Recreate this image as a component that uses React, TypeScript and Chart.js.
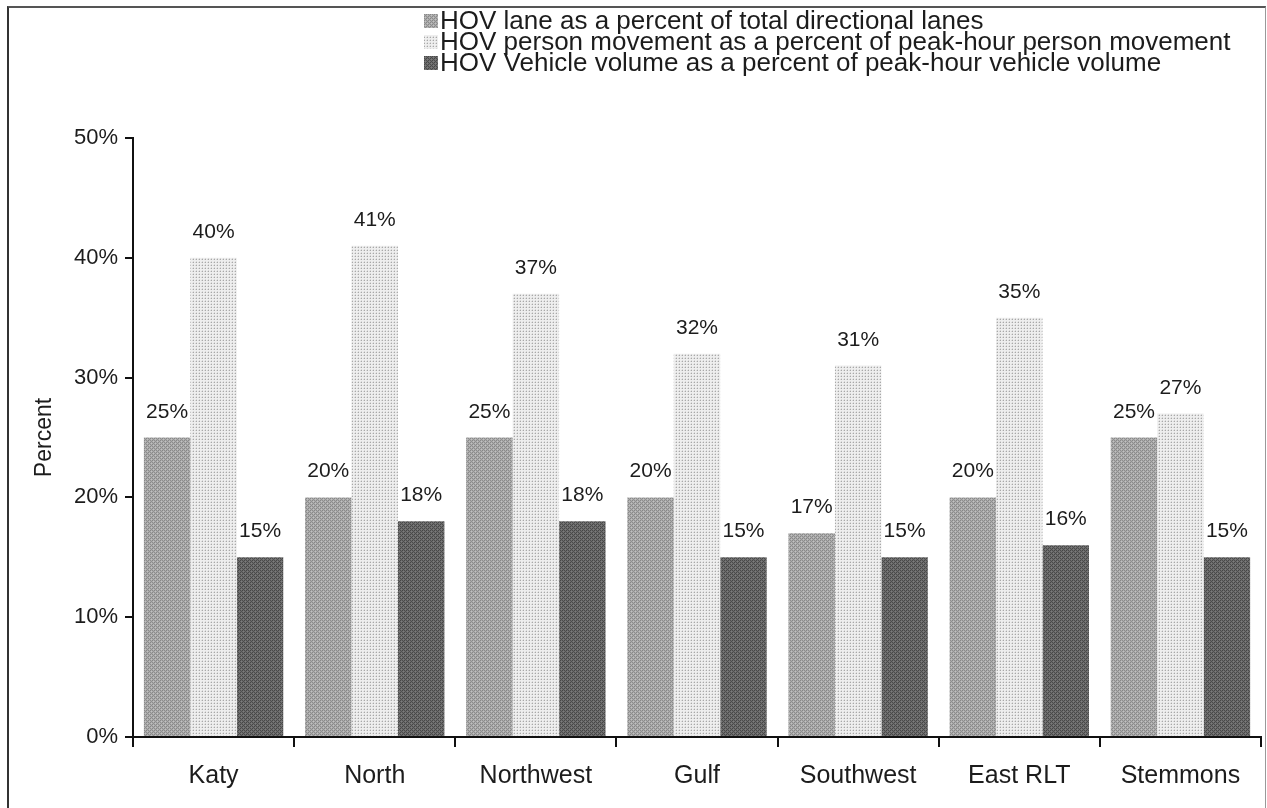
import React, { useEffect, useRef } from "react";
import { Chart, registerables } from "chart.js";

Chart.register(...registerables);

const categories = ["Katy", "North", "Northwest", "Gulf", "Southwest", "East RLT", "Stemmons"];
const laneShare = [25, 20, 25, 20, 17, 20, 25];
const personShare = [40, 41, 37, 32, 31, 35, 27];
const vehicleShare = [15, 18, 18, 15, 15, 16, 15];
const seriesNames = [
  "HOV lane as a percent of total directional lanes",
  "HOV person movement as a percent of peak-hour person movement",
  "HOV Vehicle volume as a percent of peak-hour vehicle volume",
];
const yTicks = [0, 10, 20, 30, 40, 50];

const FONT = "'Liberation Sans', Arial, Helvetica, sans-serif";
const INK = "#1c1c1c";

function makePattern(size: number, bg: string, dots: Array<[number, number, string]>): CanvasPattern | string {
  const c = document.createElement("canvas");
  c.width = size;
  c.height = size;
  const g = c.getContext("2d");
  if (!g) return bg;
  g.fillStyle = bg;
  g.fillRect(0, 0, size, size);
  for (const [x, y, col] of dots) {
    g.fillStyle = col;
    g.fillRect(x, y, 1, 1);
  }
  const ctx = document.createElement("canvas").getContext("2d");
  return (ctx && ctx.createPattern(c, "repeat")) || bg;
}

export default function App() {
  const ref = useRef<HTMLCanvasElement | null>(null);

  useEffect(() => {
    if (!ref.current) return;
    const p1 = makePattern(4, "#acacac", [
      [0, 0, "#888"], [2, 0, "#8e8e8e"], [1, 1, "#c2c2c2"], [3, 1, "#909090"],
      [0, 2, "#8c8c8c"], [2, 2, "#868686"], [1, 3, "#929292"], [3, 3, "#c0c0c0"],
    ]);
    const p2 = makePattern(3, "#eeeeee", [[1, 1, "#a8a8a8"], [0, 1, "#d8d8d8"], [1, 0, "#d8d8d8"]]);
    const p3 = makePattern(4, "#6c6c6c", [
      [0, 0, "#474747"], [2, 0, "#4d4d4d"], [1, 1, "#7c7c7c"], [3, 1, "#4b4b4b"],
      [0, 2, "#4a4a4a"], [2, 2, "#454545"], [1, 3, "#505050"], [3, 3, "#7a7a7a"],
    ]);
    const fills = [p1, p2, p3];

    const valueLabels = {
      id: "valueLabels",
      afterDatasetsDraw(chart: any) {
        const ctx = chart.ctx;
        ctx.save();
        ctx.font = `21px ${FONT}`;
        ctx.fillStyle = INK;
        ctx.textAlign = "center";
        ctx.textBaseline = "alphabetic";
        chart.data.datasets.forEach((ds: any, di: number) => {
          const meta = chart.getDatasetMeta(di);
          meta.data.forEach((bar: any, i: number) => {
            ctx.fillText(`${ds.data[i]}%`, bar.x, bar.y - 20);
          });
        });
        ctx.restore();
      },
    };

    const customLegend = {
      id: "customLegend",
      afterDraw(chart: any) {
        const ctx = chart.ctx;
        ctx.save();
        ctx.font = `26px ${FONT}`;
        ctx.textBaseline = "alphabetic";
        ctx.textAlign = "left";
        chart.data.datasets.forEach((ds: any, di: number) => {
          const base = 29 + di * 21;
          ctx.fillStyle = ds.backgroundColor;
          ctx.fillRect(424, base - 15, 14, 14);
          ctx.fillStyle = INK;
          ctx.fillText(ds.label, 440, base);
        });
        ctx.restore();
      },
    };

    const chart = new Chart(ref.current, {
      type: "bar",
      data: {
        labels: categories,
        datasets: [
          { label: seriesNames[0], data: laneShare, backgroundColor: fills[0] as any, borderWidth: 0 },
          { label: seriesNames[1], data: personShare, backgroundColor: fills[1] as any, borderWidth: 0 },
          { label: seriesNames[2], data: vehicleShare, backgroundColor: fills[2] as any, borderWidth: 0 },
        ],
      },
      options: {
        animation: false,
        responsive: false,
        maintainAspectRatio: false,
        layout: { padding: { top: 138, left: 0, right: 6, bottom: 0 } },
        datasets: { bar: { categoryPercentage: 0.865, barPercentage: 1 } },
        plugins: {
          legend: { display: false },
          tooltip: { enabled: false },
        },
        scales: {
          x: {
            afterFit(scale: any) {
              scale.height = 71;
            },
            grid: {
              offset: true,
              drawOnChartArea: false,
              drawTicks: true,
              tickLength: 10,
              color: "#111",
              lineWidth: 2,
            },
            border: { display: true, color: "#111", width: 2 },
            ticks: {
              color: INK,
              font: { family: FONT, size: 25 },
              padding: 14,
            },
          },
          y: {
            min: 0,
            max: 50,
            afterFit(scale: any) {
              scale.width = 133;
            },
            afterBuildTicks(scale: any) {
              scale.ticks = yTicks.map((v) => ({ value: v }));
            },
            grid: {
              drawOnChartArea: false,
              drawTicks: true,
              tickLength: 8,
              color: "#111",
              lineWidth: 2,
            },
            border: { display: true, color: "#111", width: 2 },
            ticks: {
              color: INK,
              font: { family: FONT, size: 22 },
              padding: 7,
              callback: (v: any) => `${v}%`,
            },
            title: {
              display: true,
              text: "Percent",
              color: INK,
              font: { family: FONT, size: 23 },
              padding: { top: 31, bottom: 0 },
            },
          },
        },
      },
      plugins: [valueLabels, customLegend],
    });
    return () => chart.destroy();
  }, []);

  return (
    <div style={{ position: "absolute", left: 0, top: 0, width: 1267, height: 808, background: "#fff", overflow: "hidden" }}>
      <div
        style={{
          position: "absolute",
          left: 7,
          top: 6,
          width: 1259,
          height: 820,
          borderLeft: "2px solid #333",
          borderTop: "2px solid #555",
          borderRight: "1px solid #999",
          boxSizing: "border-box",
        }}
      />
      <canvas ref={ref} width={1267} height={808} style={{ position: "absolute", left: 0, top: 0, display: "block" }} />
    </div>
  );
}
